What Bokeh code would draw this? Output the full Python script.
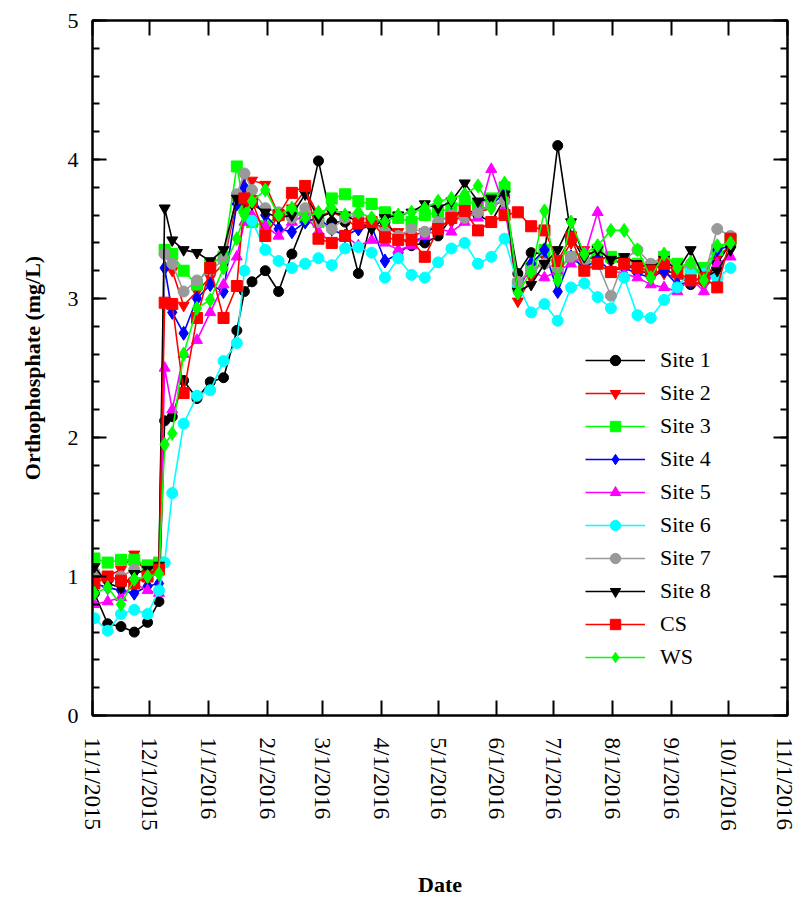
import pandas as pd
from bokeh.plotting import figure
from bokeh.models import LinearAxis, Range1d, FixedTicker, SingleIntervalTicker, Legend
from bokeh.embed import file_html
from bokeh.resources import INLINE

# ---------------- data ----------------
sample_dates = [
    "2015-11-02", "2015-11-09", "2015-11-16", "2015-11-23", "2015-11-30", "2015-12-06",
    "2015-12-09", "2015-12-13", "2015-12-19", "2015-12-26", "2016-01-02", "2016-01-09",
    "2016-01-16", "2016-01-20", "2016-01-24", "2016-01-31", "2016-02-07", "2016-02-14",
    "2016-02-21", "2016-02-28", "2016-03-06", "2016-03-13", "2016-03-20", "2016-03-27",
    "2016-04-03", "2016-04-10", "2016-04-17", "2016-04-24", "2016-05-01", "2016-05-08",
    "2016-05-15", "2016-05-22", "2016-05-29", "2016-06-05", "2016-06-12", "2016-06-19",
    "2016-06-26", "2016-07-03", "2016-07-10", "2016-07-17", "2016-07-24", "2016-07-31",
    "2016-08-07", "2016-08-14", "2016-08-21", "2016-08-28", "2016-09-04", "2016-09-11",
    "2016-09-18", "2016-09-25", "2016-10-02",
]

site1 = [0.88, 0.66, 0.64, 0.60, 0.67, 0.82,
         2.12, 2.15, 2.41, 2.28, 2.40, 2.43, 2.77, 3.05, 3.12, 3.20,
         3.05, 3.32, 3.56, 3.99, 3.55, 3.55, 3.18, 3.57, 3.55, 3.45,
         3.38, 3.40, 3.45, 3.58, 3.65, 3.60, 3.55, 3.72,
         3.18, 3.33, 3.32, 4.10, 3.45, 3.28, 3.30, 3.28, 3.25, 3.20, 3.18, 3.20, 3.18, 3.10, 3.12, 3.25, 3.40]
site2 = [0.98, 1.00, 1.05, 1.16, 1.00, 1.02,
         3.35, 3.20, 2.95, 3.05, 3.15, 3.25, 3.70, 3.88, 3.85, 3.82,
         3.60, 3.65, 3.78, 3.60, 3.62, 3.58, 3.50, 3.55, 3.50, 3.48,
         3.45, 3.48, 3.52, 3.55, 3.60, 3.62, 3.65, 3.72,
         2.98, 3.15, 3.30, 3.25, 3.40, 3.35, 3.30, 3.28, 3.25, 3.22, 3.20, 3.18, 3.15, 3.12, 3.10, 3.30, 3.38]
site3 = [1.13, 1.10, 1.12, 1.12, 1.08, 1.10,
         3.35, 3.32, 3.20, 3.10, 3.25, 3.30, 3.95, 3.65, 3.55, 3.52,
         3.60, 3.62, 3.58, 3.55, 3.72, 3.75, 3.70, 3.68, 3.62, 3.58,
         3.55, 3.60, 3.62, 3.65, 3.70, 3.68, 3.72, 3.80,
         3.10, 3.22, 3.35, 3.20, 3.30, 3.25, 3.35, 3.30, 3.28, 3.25, 3.22, 3.30, 3.25, 3.20, 3.22, 3.35, 3.42]
site4 = [0.95, 0.92, 0.90, 0.88, 0.93, 0.95,
         3.22, 2.90, 2.75, 3.00, 3.10, 3.05, 3.68, 3.80, 3.72, 3.60,
         3.50, 3.48, 3.55, 3.58, 3.50, 3.45, 3.50, 3.52, 3.27, 3.32,
         3.40, 3.45, 3.55, 3.60, 3.58, 3.62, 3.68, 3.75,
         3.05, 3.25, 3.35, 3.05, 3.30, 3.22, 3.28, 3.20, 3.22, 3.18, 3.15, 3.20, 3.10, 3.12, 3.15, 3.35, 3.38]
site5 = [0.80, 0.82, 0.85, 0.95, 0.90, 0.88,
         2.50, 2.20, 2.60, 2.70, 2.90, 3.10, 3.30, 3.55, 3.60, 3.52,
         3.45, 3.55, 3.60, 3.48, 3.40, 3.45, 3.38, 3.42, 3.40, 3.35,
         3.38, 3.45, 3.50, 3.48, 3.55, 3.58, 3.93, 3.65,
         3.10, 3.20, 3.15, 3.20, 3.25, 3.30, 3.62, 3.20, 3.18, 3.15, 3.10, 3.08, 3.05, 3.15, 3.05, 3.25, 3.30]
site6 = [0.70, 0.61, 0.73, 0.76, 0.73, 0.90,
         1.10, 1.60, 2.10, 2.30, 2.34, 2.55, 2.68, 3.20, 3.56, 3.35,
         3.27, 3.22, 3.25, 3.29, 3.24, 3.36, 3.37, 3.33, 3.15, 3.29,
         3.17, 3.15, 3.26, 3.36, 3.40, 3.25, 3.30, 3.43,
         3.10, 2.90, 2.96, 2.84, 3.08, 3.11, 3.01, 2.93, 3.15, 2.88, 2.86, 2.99, 3.08, 3.20, 3.18, 3.15, 3.22]
site7 = [1.03, 0.98, 1.00, 1.05, 1.02, 1.05,
         3.32, 3.25, 3.05, 3.13, 3.20, 3.28, 3.75, 3.90, 3.78, 3.65,
         3.62, 3.58, 3.65, 3.55, 3.50, 3.58, 3.60, 3.55, 3.48, 3.45,
         3.50, 3.48, 3.55, 3.60, 3.58, 3.62, 3.68, 3.70,
         3.12, 3.20, 3.25, 3.22, 3.30, 3.28, 3.25, 3.02, 3.28, 3.35, 3.25, 3.30, 3.20, 3.25, 3.15, 3.50, 3.45]
site8 = [1.07, 0.95, 0.92, 1.02, 1.05, 1.08,
         3.65, 3.42, 3.35, 3.33, 3.27, 3.35, 3.72, 3.70, 3.68, 3.62,
         3.58, 3.60, 3.75, 3.58, 3.62, 3.60, 3.55, 3.50, 3.58, 3.60,
         3.62, 3.68, 3.65, 3.70, 3.83, 3.70, 3.72, 3.75,
         3.05, 3.10, 3.25, 3.35, 3.55, 3.30, 3.35, 3.28, 3.30, 3.25, 3.22, 3.28, 3.20, 3.35, 3.15, 3.20, 3.35]
cs = [0.95, 1.00, 0.97, 0.95, 1.00, 1.05,
      2.97, 2.96, 2.32, 2.86, 3.22, 2.86, 3.09, 3.72, 3.70, 3.45,
      3.60, 3.76, 3.81, 3.43, 3.40, 3.45, 3.54, 3.55, 3.44, 3.42,
      3.42, 3.30, 3.50, 3.58, 3.63, 3.49, 3.55, 3.60,
      3.62, 3.52, 3.49, 3.27, 3.44, 3.20, 3.25, 3.19, 3.25, 3.22, 3.20, 3.25, 3.19, 3.13, 3.15, 3.08, 3.43]
ws = [0.88, 0.92, 0.80, 0.98, 1.00, 1.02,
      1.95, 2.03, 2.60, 2.93, 2.99, 3.22, 3.43, 3.60, 3.70, 3.78,
      3.60, 3.65, 3.58, 3.62, 3.65, 3.60, 3.62, 3.58, 3.55, 3.60,
      3.62, 3.65, 3.70, 3.72, 3.75, 3.81, 3.65, 3.83,
      3.04, 3.19, 3.63, 3.13, 3.55, 3.32, 3.38, 3.49, 3.49, 3.35, 3.15, 3.32, 3.22, 3.26, 3.13, 3.38, 3.40]

series_names = ["Site 1", "Site 2", "Site 3", "Site 4", "Site 5", "Site 6", "Site 7", "Site 8", "CS", "WS"]
series_values = [site1, site2, site3, site4, site5, site6, site7, site8, cs, ws]
series_colors = ["#000000", "#ff0000", "#00ff00", "#0000ff", "#ff00ff", "#00ffff", "#999999", "#000000", "#ff0000", "#00ff00"]
series_markers = ["circle", "inverted_triangle", "square", "diamond", "triangle", "circle", "circle",
                  "inverted_triangle", "square", "diamond"]
series_sizes = [10, 11, 11, 14, 11, 11, 11, 11, 11, 14]

axis_start = "2015-11-01"
tick_dates = ["2015-11-01", "2015-12-01", "2016-01-01", "2016-02-01", "2016-03-01", "2016-04-01",
              "2016-05-01", "2016-06-01", "2016-07-01", "2016-08-01", "2016-09-01", "2016-10-01",
              "2016-11-01"]
tick_labels = ["11/1/2015", "12/1/2015", "1/1/2016", "2/1/2016", "3/1/2016", "4/1/2016", "5/1/2016",
               "6/1/2016", "7/1/2016", "8/1/2016", "9/1/2016", "10/1/2016", "11/1/2016"]

# ---------------- helpers ----------------
t0 = pd.Timestamp(axis_start)
xdays = [(pd.Timestamp(d) - t0).days for d in sample_dates]
tick_days = [(pd.Timestamp(d) - t0).days for d in tick_dates]

FONT = "Liberation Serif"

p = figure(width=796, height=900, output_backend="svg", toolbar_location=None,
           x_range=Range1d(0, tick_days[-1]), y_range=Range1d(0, 5),
           min_border_left=92, min_border_right=9, min_border_top=20, min_border_bottom=185,
           background_fill_color="white", border_fill_color="white")
p.grid.visible = False
p.outline_line_color = "black"
p.outline_line_width = 2

# bottom axis
xa = p.xaxis[0]
xa.ticker = FixedTicker(ticks=tick_days)
xa.major_label_overrides = {d: lab for d, lab in zip(tick_days, tick_labels)}
xa.major_label_orientation = "vertical"
xa.major_label_text_font = FONT
xa.major_label_text_font_size = "23px"
xa.major_label_text_color = "black"
xa.major_label_standoff = 22
xa.major_tick_in = 15
xa.major_tick_out = 0
xa.minor_tick_in = 0
xa.minor_tick_out = 0
xa.axis_line_width = 2
xa.major_tick_line_width = 2
xa.axis_label = "Date"
xa.axis_label_text_font = FONT
xa.axis_label_text_font_style = "bold"
xa.axis_label_text_font_size = "22px"
xa.axis_label_text_color = "black"
xa.axis_label_standoff = 38

# left axis
ya = p.yaxis[0]
ya.ticker = SingleIntervalTicker(interval=1, num_minor_ticks=5)
ya.major_label_text_font = FONT
ya.major_label_text_font_size = "22px"
ya.major_label_text_color = "black"
ya.major_label_standoff = 14
ya.major_tick_in = 14
ya.major_tick_out = 0
ya.minor_tick_in = 7
ya.minor_tick_out = 0
ya.axis_line_width = 2
ya.major_tick_line_width = 2
ya.minor_tick_line_width = 2
ya.axis_label = "Orthophosphate (mg/L)"
ya.axis_label_text_font = FONT
ya.axis_label_text_font_style = "bold"
ya.axis_label_text_font_size = "22px"
ya.axis_label_text_color = "black"
ya.axis_label_standoff = 20

# top axis (ticks only, no labels drawn)
top = LinearAxis(ticker=FixedTicker(ticks=tick_days), major_label_text_font_size="1px",
                 major_label_text_color=None, major_label_standoff=0,
                 major_tick_in=15, major_tick_out=0,
                 minor_tick_in=0, minor_tick_out=0, axis_line_width=2, major_tick_line_width=2)
p.add_layout(top, "above")

# right axis (ticks only, no labels drawn)
right = LinearAxis(ticker=SingleIntervalTicker(interval=1, num_minor_ticks=5),
                   major_label_text_font_size="1px", major_label_text_color=None,
                   major_label_standoff=0,
                   major_tick_in=14, major_tick_out=0, minor_tick_in=7, minor_tick_out=0,
                   axis_line_width=2, major_tick_line_width=2, minor_tick_line_width=2)
p.add_layout(right, "right")

items = []
for name, vals, col, mk, sz in zip(series_names, series_values, series_colors, series_markers, series_sizes):
    ln = p.line(xdays, vals, line_color=col, line_width=1.6)
    sc = p.scatter(xdays, vals, marker=mk, size=sz, fill_color=col, line_color=col)
    items.append((name, [ln, sc]))

legend = Legend(items=items, location=(493, 45), border_line_color=None,
                background_fill_alpha=0, padding=0, margin=0, spacing=7,
                glyph_width=60, glyph_height=26, label_height=26, label_standoff=15,
                label_text_font=FONT, label_text_font_size="22px", label_text_color="black")
p.add_layout(legend)

open("out.html", "w").write(file_html(p, INLINE))
